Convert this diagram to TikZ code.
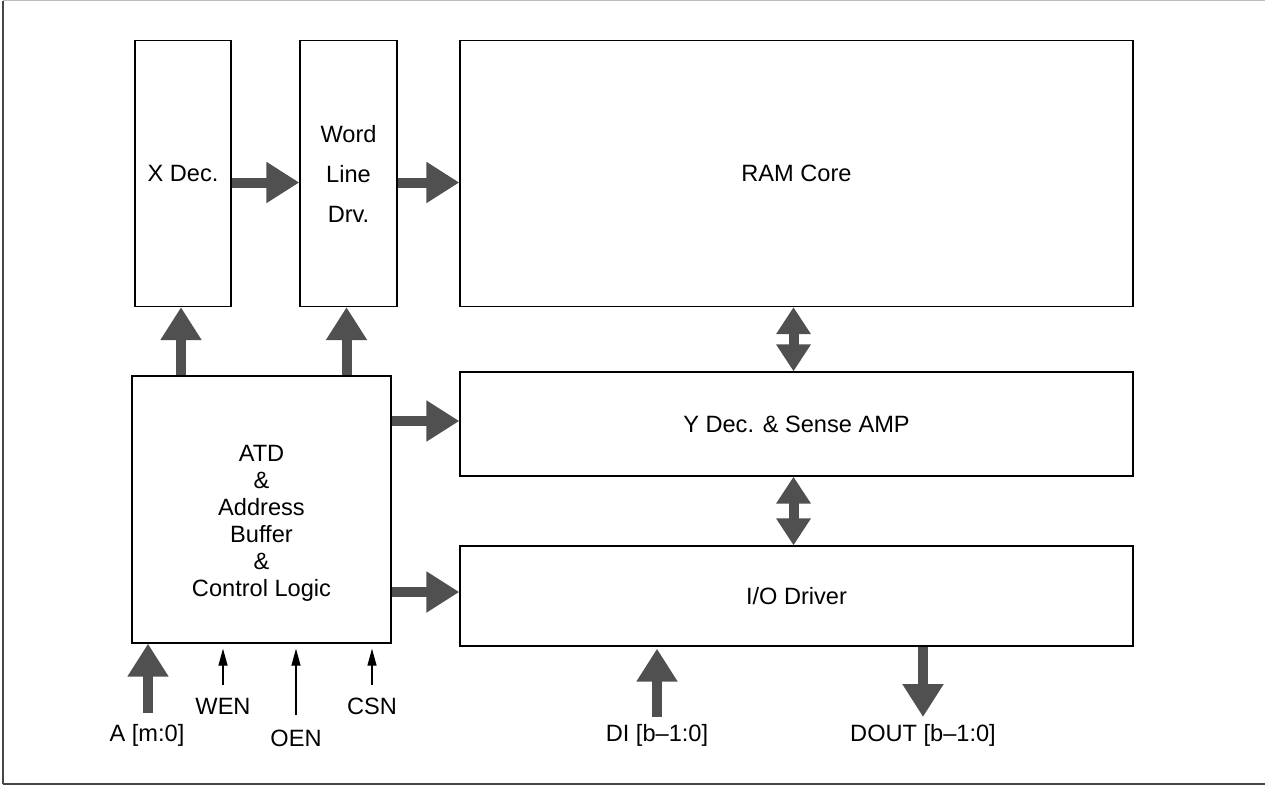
\documentclass[tikz,border=0pt]{standalone}
\usepackage{fontspec}
\setmainfont{Liberation Sans}
\usetikzlibrary{arrows.meta}
\definecolor{busgray}{RGB}{80,80,80}
\definecolor{framedark}{RGB}{70,70,70}
\definecolor{framelight}{RGB}{190,190,190}
\begin{document}
\begin{tikzpicture}[x=1pt,y=-1pt,
  txt/.style={font=\fontsize{23.6}{27}\selectfont},
  block/.style={txt, draw=black, line width=1.3pt, rectangle, inner sep=0pt, align=center},
  lbl/.style={txt, inner sep=0pt},
  bus/.style={draw=busgray, line width=10pt, -{Triangle[length=33pt,width=39pt]}},
  busboth/.style={draw=busgray, line width=10pt,
    {Triangle[length=27pt,width=33pt]}-{Triangle[length=27pt,width=33pt]}},
  ctl/.style={draw=black, line width=1.3pt, -{Triangle[length=17pt,width=9pt]}}]

% page extent and frame
\useasboundingbox (0,0) rectangle (1265,785);
\draw[framelight, line width=1.2pt] (3,0.6) -- (1265,0.6);
\draw[framedark, line width=1.4pt] (3,0.6) -- (3,783.5);
\draw[framedark, line width=2pt] (3,783.5) -- (1265,783.5);

% blocks
\node[block, minimum width=96pt, minimum height=266pt] (xdec) at (183,173.5) {X Dec.};
\node[block, minimum width=97pt, minimum height=266pt] (wld) at (348.5,173.5)
  {Word\\[13pt]Line\\[13pt]Drv.};
\node[block, minimum width=673pt, minimum height=266pt] (ram) at (796.5,173.5) {RAM Core};
\node[block, minimum width=259pt, minimum height=267pt] (atd) at (261.5,509.5) {};
\node[lbl, align=center] (atdtext) at (261.5,523)
  {ATD\\\&\\Address\\Buffer\\\&\\Control Logic};
\node[block, minimum width=673pt, minimum height=104pt] (ydec) at (796.5,424) {Y Dec. \& Sense AMP};
\node[block, minimum width=673pt, minimum height=100pt] (io) at (796.5,596) {I/O Driver};

% row-side buses
\draw[bus] ([yshift=-9pt]xdec.east) -- ([yshift=-9pt]wld.west);
\draw[bus] ([yshift=-9pt]wld.east) -- ([yshift=-9pt]ram.west);
\draw[bus] ([xshift=-2pt]atd.north -| xdec.south) -- ([xshift=-2pt]xdec.south);
\draw[bus] ([xshift=-2pt]atd.north -| wld.south) -- ([xshift=-2pt]wld.south);
\draw[bus] ([yshift=3pt]atd.east |- ydec.west) -- ([yshift=3pt]ydec.west);
\draw[bus] ([yshift=4pt]atd.east |- io.west) -- ([yshift=4pt]io.west);

% column-side data paths
\draw[busboth] ([xshift=-3pt]ram.south) -- ([xshift=-3pt]ydec.north);
\draw[busboth] ([xshift=-3pt]ydec.south) -- ([xshift=-3pt]io.north);

% address and control inputs
\coordinate (atail) at (148,713);
\node[lbl] (alab) at (147,735) {A [m:0]};
\draw[bus] (atail) -- (atail |- atd.south);

\coordinate (wentail) at (223,685);
\node[lbl] (wen) at (223,706) {WEN};
\draw[ctl] (wentail) -- ([yshift=-5pt]wentail |- atd.south);

\coordinate (oentail) at (296,715);
\node[lbl] (oen) at (296,738) {OEN};
\draw[ctl] (oentail) -- ([yshift=-5pt]oentail |- atd.south);

\coordinate (csntail) at (372,685);
\node[lbl] (csn) at (372,706) {CSN};
\draw[ctl] (csntail) -- ([yshift=-5pt]csntail |- atd.south);

% data in / data out
\coordinate (ditail) at (657,717);
\node[lbl] (dilab) at (657,735) {DI [b–1:0]};
\draw[bus] (ditail) -- ([yshift=-2pt]ditail |- io.south);

\coordinate (douttip) at (923,717);
\node[lbl] (doutlab) at (923,735) {DOUT [b–1:0]};
\draw[bus] (douttip |- io.south) -- (douttip);
\end{tikzpicture}
\end{document}
